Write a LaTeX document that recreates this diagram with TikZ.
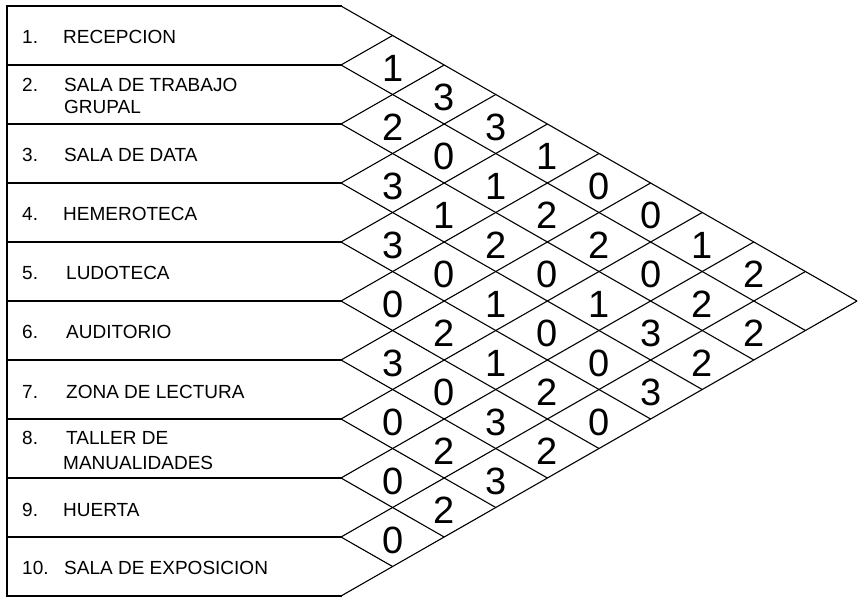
\documentclass[tikz,border=0pt]{standalone}
\usepackage{fontspec}
\setmainfont{Liberation Sans}
\begin{document}
\begin{tikzpicture}[x=1pt,y=-1pt,
  frame/.style={line width=1.5pt,line cap=rect},
  grid/.style={line width=1.1pt},
  lbl/.style={anchor=west,inner sep=0pt,font=\fontsize{19}{22}\selectfont,align=left},
  idx/.style={anchor=west,inner sep=0pt,font=\fontsize{19}{22}\selectfont},
  num/.style={inner sep=0pt,font=\fontsize{38}{40}\selectfont}]
\useasboundingbox (0,0) rectangle (866,605);
% frame lines
\draw[frame] (7,6) -- (7,596);
\foreach \k in {0,...,10}{
  \pgfmathsetmacro\yk{6+59*\k}
  \draw[frame] (7,\yk) -- (341,\yk);
  \draw[grid] (341,\yk) -- ++({51.6*(10-\k)},{29.5*(10-\k)});
  \draw[grid] (341,\yk) -- ++({51.6*\k},{-29.5*\k});
}
% labels
\node[idx] (n1) at (22,37) {1.};
\node[lbl] (t1) at (63,37) {RECEPCION};
\node[idx] (n2) at (22,85) {2.};
\node[lbl] (t2) at (64,96) {SALA DE TRABAJO\\GRUPAL};
\node[idx] (n3) at (22,155) {3.};
\node[lbl] (t3) at (64,155) {SALA DE DATA};
\node[idx] (n4) at (22,214) {4.};
\node[lbl] (t4) at (63,214) {HEMEROTECA};
\node[idx] (n5) at (22,273) {5.};
\node[lbl] (t5) at (66,273) {LUDOTECA};
\node[idx] (n6) at (22,332) {6.};
\node[lbl] (t6) at (66,332) {AUDITORIO};
\node[idx] (n7) at (22,392) {7.};
\node[lbl] (t7) at (66,392) {ZONA DE LECTURA};
\node[idx] (n8) at (22,438) {8.};
\node[lbl] (t8a) at (66,438) {TALLER DE};
\node[lbl] (t8b) at (63,463) {MANUALIDADES};
\node[idx] (n9) at (22,510) {9.};
\node[lbl] (t9) at (63,510) {HUERTA};
\node[idx] (n10) at (22,568) {10.};
\node[lbl] (t10) at (64,568) {SALA DE EXPOSICION};
% relation values: i/j/value
\foreach \i/\j/\v in {
  1/2/1,2/3/2,3/4/3,4/5/3,5/6/0,6/7/3,7/8/0,8/9/0,9/10/0,
  1/3/3,2/4/0,3/5/1,4/6/0,5/7/2,6/8/0,7/9/2,8/10/2,
  1/4/3,2/5/1,3/6/2,4/7/1,5/8/1,6/9/3,7/10/3,
  1/5/1,2/6/2,3/7/0,4/8/0,5/9/2,6/10/2,
  1/6/0,2/7/2,3/8/1,4/9/0,5/10/0,
  1/7/0,2/8/0,3/9/3,4/10/3,
  1/8/1,2/9/2,3/10/2,
  1/9/2,2/10/2}{
  \node[num] (v\i-\j) at ({341+51.6*(\j-\i)},{6+59*((\i+\j)/2-0.5)+3}) {\v};
}
\end{tikzpicture}
\end{document}
